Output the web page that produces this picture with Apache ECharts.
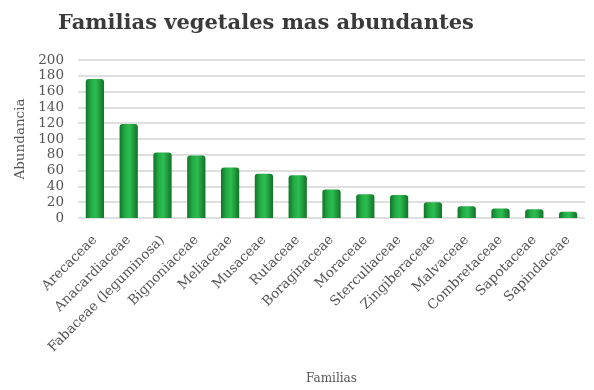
<!DOCTYPE html>
<html><head><meta charset="utf-8">
<script src="https://cdn.jsdelivr.net/npm/echarts@6/dist/echarts.min.js"></script>
<style>html,body{margin:0;padding:0;background:#fff}#c{width:594px;height:390px}</style>
</head><body><div id="c"></div>
<script>
const categories = ['Arecaceae','Anacardiaceae','Fabaceae (leguminosa)','Bignoniaceae','Meliaceae','Musaceae','Rutaceae','Boraginaceae','Moraceae','Sterculiaceae','Zingiberaceae','Malvaceae','Combretaceae','Sapotaceae','Sapindaceae'];
const values = [176, 119, 83, 79, 64, 56, 54, 36, 30, 29, 20, 15, 12, 11, 8];
const yTicks = [0, 20, 40, 60, 80, 100, 120, 140, 160, 180, 200];

const chart = echarts.init(document.getElementById('c'), null, {renderer:'canvas'});
chart.setOption({
  animation: false,
  backgroundColor: '#fff',
  title: {
    text: 'Familias vegetales mas abundantes',
    left: 53, top: 8,
    textStyle: {fontFamily: 'DejaVu Serif', fontWeight: 'bold', fontSize: 21, color: '#3a3a3a'}
  },
  grid: {left: 78, right: 9, top: 60, bottom: 172},
  xAxis: {
    type: 'category', data: categories,
    name: 'Familias', nameLocation: 'middle', nameGap: 155,
    nameTextStyle: {fontFamily: 'DejaVu Serif', fontSize: 12, color: '#555'},
    axisLine: {show: false}, axisTick: {show: false},
    axisLabel: {rotate: 45, interval: 0, margin: 20, fontFamily: 'DejaVu Serif', fontSize: 13.5, color: '#555'}
  },
  yAxis: {
    type: 'value', min: yTicks[0], max: yTicks[yTicks.length-1], interval: 20,
    name: 'Abundancia', nameLocation: 'middle', nameGap: 50, nameRotate: 90,
    nameTextStyle: {fontFamily: 'DejaVu Serif', fontSize: 13.5, color: '#555'},
    axisLine: {show: false}, axisTick: {show: false},
    axisLabel: {margin: 14, fontFamily: 'DejaVu Serif', fontSize: 13.5, color: '#555'},
    splitLine: {lineStyle: {color: '#d4d4d4', width: 1.5}}
  },
  series: [{
    type: 'bar', data: values, barWidth: '54%',
    itemStyle: {
      borderRadius: [3,3,0,0],
      color: new echarts.graphic.LinearGradient(0,0,1,0,[
        {offset:0, color:'#127228'},
        {offset:0.3, color:'#22ad45'},
        {offset:0.55, color:'#2dbd50'},
        {offset:1, color:'#127228'}
      ])
    }
  }]
});
</script></body></html>
